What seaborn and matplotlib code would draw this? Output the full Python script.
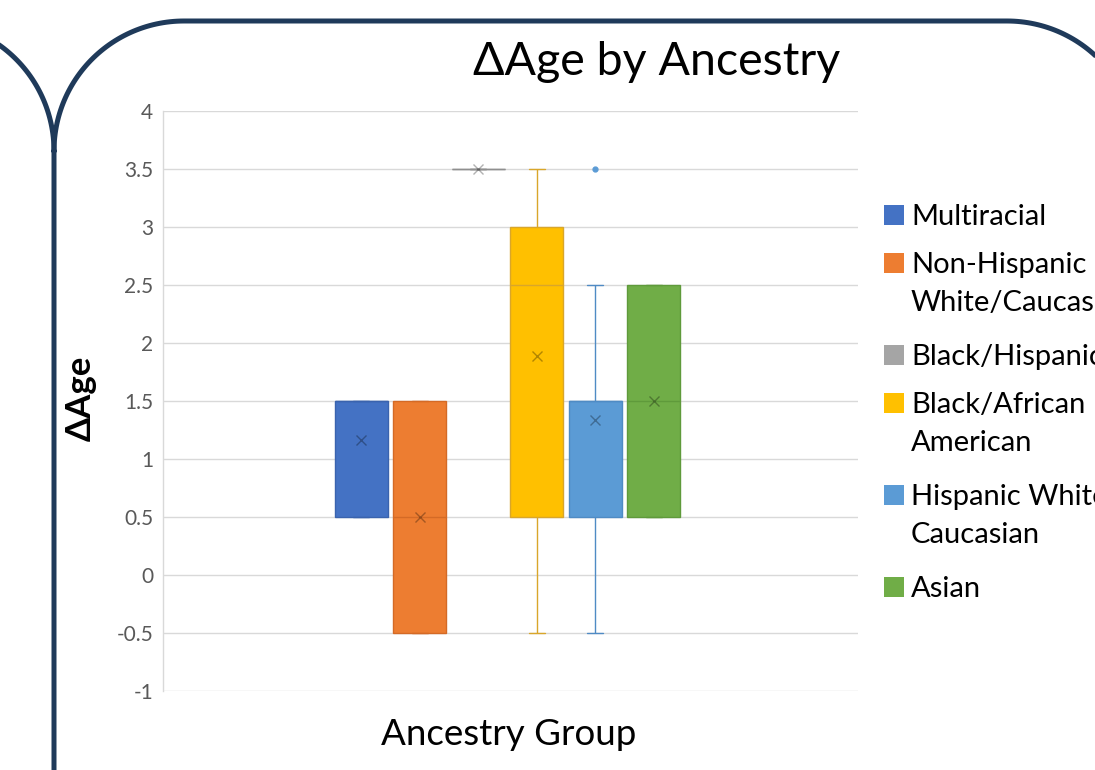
import numpy as np
import pandas as pd
import matplotlib
matplotlib.use("Agg")
import matplotlib.pyplot as plt
from matplotlib.patches import Rectangle
import seaborn as sns

# ---- data -------------------------------------------------------------
series = [
    "Multiracial",
    "Non-Hispanic White/Caucasian",
    "Black/Hispanic",
    "Black/African American",
    "Hispanic White/Caucasian",
    "Asian",
]
legend_labels = [
    "Multiracial",
    "Non-Hispanic\nWhite/Caucasian",
    "Black/Hispanic",
    "Black/African\nAmerican",
    "Hispanic White/\nCaucasian",
    "Asian",
]
multiracial = [0.5, 0.5, 0.5, 1.5, 1.5, 1.5, 1.5, 1.5, 1.5]
non_hispanic_white = [-0.5, -0.5, 0.5, 1.5, 1.5]
black_hispanic = [3.5]
black_african_american = [-0.5, 0.5, 0.5, 1.5, 2.5, 2.5, 3.0, 3.5, 3.5]
hispanic_white = [-0.5, 0.5, 0.5, 1.0, 1.5, 1.5, 1.5, 2.5, 3.5]
asian = [0.5, 0.5, 1.5, 2.5, 2.5]
y_ticks = [-1, -0.5, 0, 0.5, 1, 1.5, 2, 2.5, 3, 3.5, 4]

values = [multiracial, non_hispanic_white, black_hispanic,
          black_african_american, hispanic_white, asian]

fill_colors = ["#4472C4", "#ED7D31", "#A5A5A5", "#FFC000", "#5B9BD5", "#70AD47"]
line_colors = ["#3A63AE", "#D46A26", "#8F8F8F", "#D9A62A", "#4F8BC4", "#5F9A3B"]

df = pd.DataFrame({
    "group": ["Ancestry"] * sum(len(v) for v in values),
    "series": [s for s, v in zip(series, values) for _ in v],
    "value": [x for v in values for x in v],
})

# ---- figure -----------------------------------------------------------
sns.set_theme(style="white")
FONT = ["Lato", "DejaVu Sans"]
plt.rcParams["font.family"] = FONT

W, H = 1095, 770
fig = plt.figure(figsize=(W / 100, H / 100), dpi=100)

# slide frame drawn behind the chart (pixel coordinates, y downwards)
bg = fig.add_axes([0, 0, 1, 1], zorder=-5)
bg.set_xlim(0, W)
bg.set_ylim(H, 0)
bg.axis("off")
frame_col = "#1F3A5A"
r = 130
t = np.linspace(np.pi, 1.5 * np.pi, 60)
xs = np.concatenate([[54, 54], 184 + r * np.cos(t), [1007]])
ys = np.concatenate([[H + 5, 151], 151 + r * np.sin(t), [21]])
t2 = np.linspace(1.5 * np.pi, 2 * np.pi, 60)
xs = np.concatenate([xs, 1007 + r * np.cos(t2)])
ys = np.concatenate([ys, 151 + r * np.sin(t2)])
bg.plot(xs, ys, color=frame_col, lw=3.6, solid_capstyle="butt")
t3 = np.linspace(2 * np.pi, 1.5 * np.pi, 60)
bg.plot(-76 + r * np.cos(t3), 151 + r * np.sin(t3), color=frame_col, lw=3.6)

ax = fig.add_axes([163 / W, 1 - 691 / H, (858 - 163) / W, (691 - 111) / H])

BOX_WIDTH = 0.505
GAP = 0.094
sns.boxplot(
    data=df, x="group", y="value",
    hue="series", hue_order=series, palette=dict(zip(series, fill_colors)),
    width=BOX_WIDTH, gap=GAP, saturation=1, linewidth=1,
    showmeans=True,
    meanprops=dict(marker="x", markeredgecolor=(0, 0, 0, 0.3),
                   markersize=7, markeredgewidth=1),
    flierprops=dict(marker="o", markersize=3.5),
    legend=False, ax=ax,
)

# colour each box's outline, whiskers, caps and median in its own series shade
n = len(series)
centers = (np.arange(n) - (n - 1) / 2) * BOX_WIDTH / n
box_w = BOX_WIDTH / n * (1 - GAP)


def series_index(x):
    return int(np.argmin(np.abs(centers - x)))


for p in ax.patches:
    ext = p.get_path().get_extents(p.get_transform() - ax.transData)
    i = series_index((ext.x0 + ext.x1) / 2)
    p.set_edgecolor(line_colors[i])
for ln in ax.lines:
    xd = np.asarray(ln.get_xdata(), dtype=float)
    if xd.size == 0:
        continue
    i = series_index(xd.mean())
    m = ln.get_marker()
    if m == "x":
        continue
    if m == "o":
        ln.set_markerfacecolor(fill_colors[i])
        ln.set_markeredgecolor(fill_colors[i])
        continue
    ln.set_color(line_colors[i])
    span = xd.max() - xd.min()
    if 0 < span < 0.7 * box_w:
        # narrower whisker caps
        c = centers[i]
        ln.set_xdata([c - 0.15 * box_w, c + 0.15 * box_w])

ax.set_xlim(-0.4957, 0.5043)
ax.set_ylim(-1, 4)
ax.set_yticks(y_ticks)
ax.set_yticklabels([f"{v:g}" for v in y_ticks], color="#595959", fontsize=15)
ax.set_xticks([])
ax.set_xlabel("")
ax.set_ylabel("")
ax.tick_params(axis="y", length=0, pad=7)
ax.grid(axis="y", color="#D9D9D9", lw=1)
ax.set_axisbelow(True)
for side in ["top", "right", "bottom"]:
    ax.spines[side].set_visible(False)
ax.spines["left"].set_color("#D9D9D9")
ax.spines["left"].set_linewidth(1)

# titles
fig.text(657 / W, 1 - 75 / H, "ΔAge by Ancestry", ha="center", va="baseline",
         fontsize=33.5, color="black")
fig.text(509 / W, 1 - 745 / H, "Ancestry Group", ha="center", va="baseline",
         fontsize=26.5, color="black")
fig.text(81 / W, 1 - 398 / H, "ΔAge", ha="center", va="center", rotation=90,
         fontsize=25, fontweight="bold", color="black")

# legend
y = 205
for lab, fc in zip(legend_labels, fill_colors):
    fig.add_artist(Rectangle((884 / W, 1 - (y + 20) / H), 20 / W, 20 / H,
                             transform=fig.transFigure, facecolor=fc,
                             edgecolor="none"))
    lines = lab.split("\n")
    for k, ln_txt in enumerate(lines):
        fig.text(911 / W, 1 - (y + 20 + 38 * k) / H, ln_txt, ha="left",
                 va="baseline", fontsize=21, color="black")
    y += 48 + 44 * (len(lines) - 1)

fig.savefig("out.png", dpi=100, facecolor="white")
